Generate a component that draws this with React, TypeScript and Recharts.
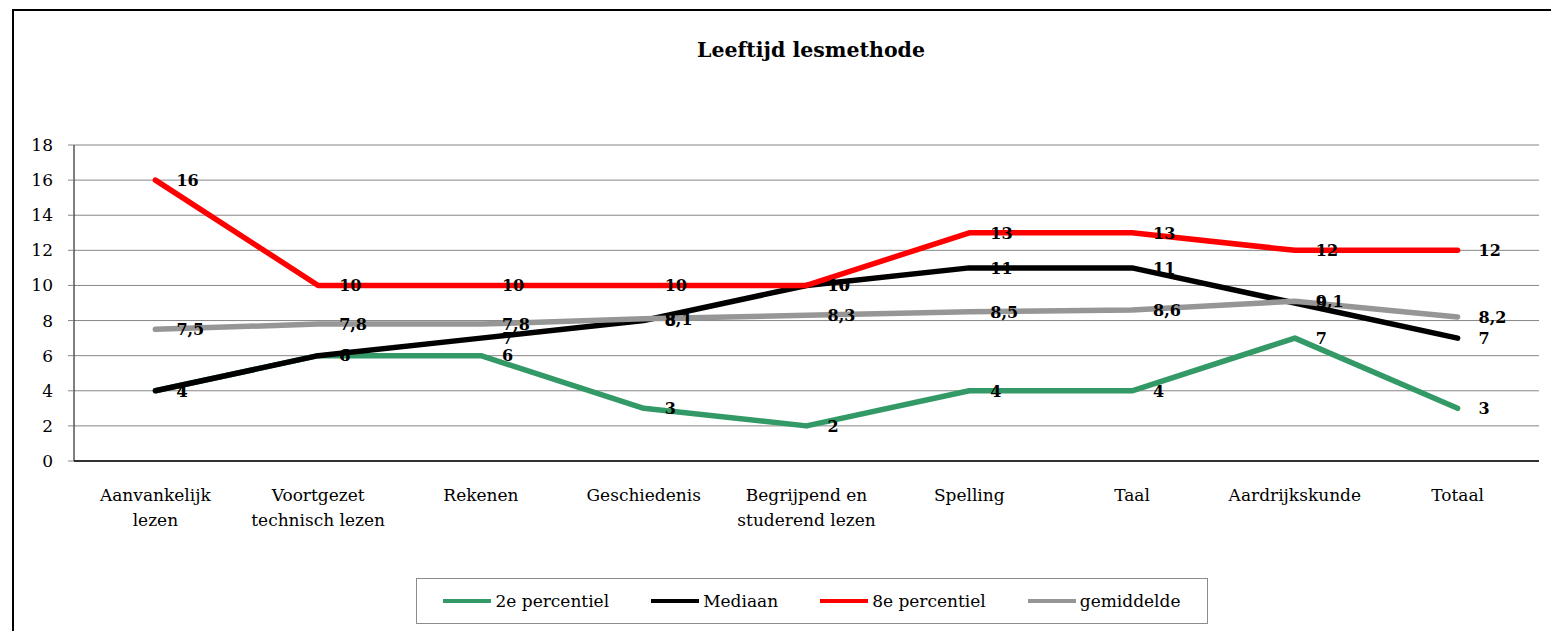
import React from "react";
import { LineChart, Line, XAxis, YAxis, CartesianGrid, LabelList } from "recharts";

const categories = [
  "Aanvankelijk\nlezen",
  "Voortgezet\ntechnisch lezen",
  "Rekenen",
  "Geschiedenis",
  "Begrijpend en\nstuderend lezen",
  "Spelling",
  "Taal",
  "Aardrijkskunde",
  "Totaal",
];
const percentiel2 = [4, 6, 6, 3, 2, 4, 4, 7, 3];
const mediaan = [4, 6, 7, 8, 10, 11, 11, 9, 7];
const percentiel8 = [16, 10, 10, 10, 10, 13, 13, 12, 12];
const gemiddelde = [7.5, 7.8, 7.8, 8.1, 8.3, 8.5, 8.6, 9.1, 8.2];
const yTicks = [0, 2, 4, 6, 8, 10, 12, 14, 16, 18];
const boundaryTicks = [0, 1, 2, 3, 4, 5, 6, 7, 8, 9];

const series = [
  { key: "p2", name: "2e percentiel", color: "#339966" },
  { key: "med", name: "Mediaan", color: "#000000" },
  { key: "p8", name: "8e percentiel", color: "#ff0000" },
  { key: "gem", name: "gemiddelde", color: "#969696" },
];

const data = categories.map((c, i) => ({
  cat: c,
  idx: i,
  p2: percentiel2[i],
  med: mediaan[i],
  p8: percentiel8[i],
  gem: gemiddelde[i],
}));

const FONT = "'DejaVu Serif', serif";

const fmt = (v: any) => String(v).replace(".", ",");

const renderLabel = (props: any) => {
  const { x, y, value } = props;
  if (x == null || y == null) return null;
  return (
    <text
      x={x + 21}
      y={y}
      dy="0.36em"
      fontFamily={FONT}
      fontWeight="bold"
      fontSize={16}
      fill="#000"
    >
      {fmt(value)}
    </text>
  );
};

const CatTick = (props: any) => {
  const { x, y, payload } = props;
  const lines = String(payload.value).split("\n");
  return (
    <text x={x} y={y + 40} textAnchor="middle" fontFamily={FONT} fontSize={17} fill="#000">
      {lines.map((l, i) => (
        <tspan key={i} x={x} dy={i === 0 ? 0 : 25}>
          {l}
        </tspan>
      ))}
    </text>
  );
};

export default function App() {
  return (
    <div
      style={{
        position: "fixed",
        left: 0,
        top: 0,
        width: 1551,
        height: 631,
        overflow: "hidden",
        background: "#fff",
      }}
    >
      <div
        style={{
          position: "absolute",
          left: 12,
          top: 9,
          width: 1700,
          height: 800,
          border: "2px solid #000",
          boxSizing: "border-box",
        }}
      />
      <div
        style={{
          position: "absolute",
          left: 0,
          top: 37,
          width: 1622,
          textAlign: "center",
          fontFamily: FONT,
          fontWeight: "bold",
          fontSize: 20.5,
          lineHeight: "26px",
          color: "#000",
        }}
      >
        Leeftijd lesmethode
      </div>
      <div style={{ position: "absolute", left: 0, top: 0 }}>
        <LineChart
          width={1551}
          height={631}
          data={data}
          margin={{ top: 145, right: 12, left: 14, bottom: 110 }}
        >
          <CartesianGrid
            horizontal={true}
            vertical={false}
            stroke="#868686"
            xAxisId="cat"
          />
          <XAxis
            xAxisId="marks"
            type="number"
            dataKey="idx"
            domain={[0, 9]}
            allowDataOverflow={true}
            ticks={boundaryTicks}
            interval={0}
            tick={false}
            height={0}
            tickSize={6}
            tickLine={{ stroke: "#868686" }}
            axisLine={{ stroke: "#000", strokeWidth: 1.5 }}
          />
          <XAxis
            xAxisId="cat"
            dataKey="cat"
            type="category"
            scale="band"
            interval={0}
            height={60}
            tickSize={0}
            tickMargin={0}
            tickLine={false}
            axisLine={{ stroke: "#000", strokeWidth: 1.5 }}
            tick={<CatTick />}
          />
          <YAxis
            width={60}
            domain={[0, 18]}
            ticks={yTicks}
            interval={0}
            tickSize={6}
            tickMargin={15}
            tickLine={{ stroke: "#868686" }}
            axisLine={{ stroke: "#000" }}
            tick={{ fontFamily: FONT, fontSize: 17, fill: "#000" }}
          />
          <Line
            xAxisId="marks"
            dataKey="p2"
            stroke="none"
            dot={false}
            activeDot={false}
            legendType="none"
            isAnimationActive={false}
          />
          {series.map((s) => (
            <Line
              key={s.key}
              xAxisId="cat"
              dataKey={s.key}
              name={s.name}
              stroke={s.color}
              strokeWidth={5.5}
              strokeLinecap="round"
              strokeLinejoin="round"
              dot={false}
              activeDot={false}
              type="linear"
              isAnimationActive={false}
            />
          ))}
          {series.map((s) => (
            <Line
              key={s.key + "-lbl"}
              xAxisId="cat"
              dataKey={s.key}
              stroke="none"
              dot={false}
              activeDot={false}
              legendType="none"
              isAnimationActive={false}
            >
              <LabelList dataKey={s.key} content={renderLabel} />
            </Line>
          ))}
        </LineChart>
      </div>
      <div
        style={{
          position: "absolute",
          left: 416,
          top: 578,
          width: 792,
          height: 46,
          border: "1px solid #8c8c8c",
          boxSizing: "border-box",
          display: "flex",
          alignItems: "center",
          justifyContent: "center",
          gap: 42,
          fontFamily: FONT,
          fontSize: 17,
          color: "#000",
        }}
      >
        {series.map((s) => (
          <div key={s.key} style={{ display: "flex", alignItems: "center" }}>
            <div style={{ width: 48, height: 4, background: s.color, marginRight: 4 }} />
            <span>{s.name}</span>
          </div>
        ))}
      </div>
    </div>
  );
}
